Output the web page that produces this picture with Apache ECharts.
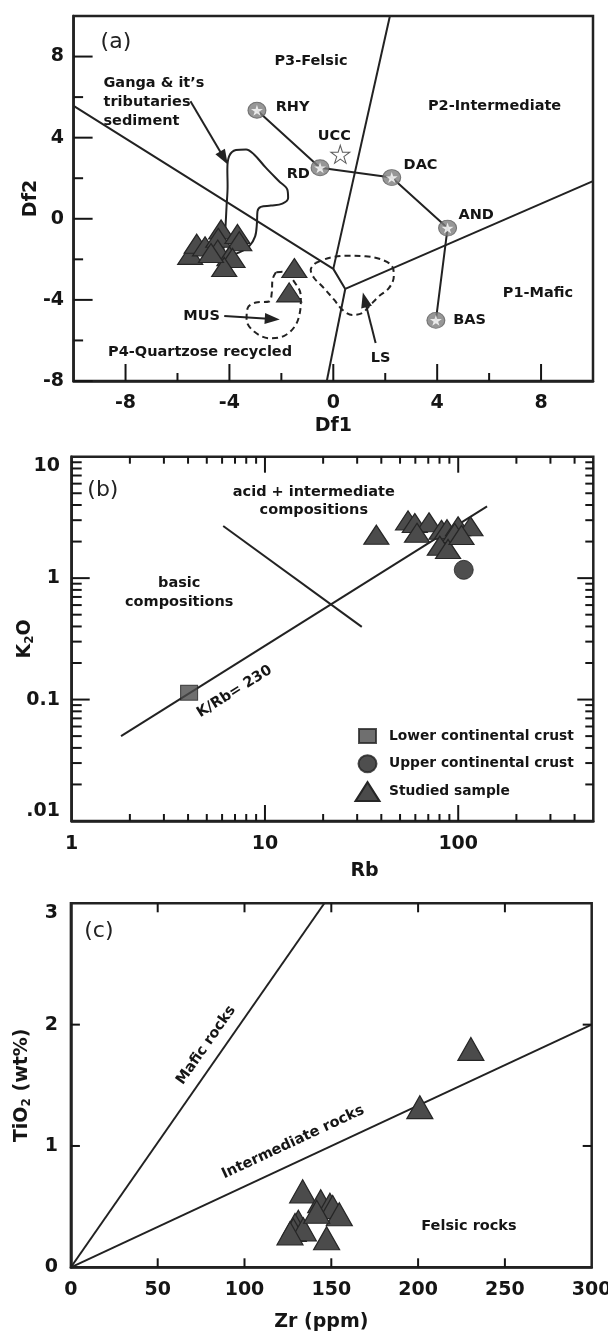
<!DOCTYPE html>
<html>
<head>
<meta charset="utf-8">
<script src="https://cdn.jsdelivr.net/npm/echarts@6/dist/echarts.min.js"></script>
<style>
  html, body { margin: 0; padding: 0; background: #fff; }
  #chart { width: 608px; height: 1334px; }
</style>
</head>
<body>
<div id="chart"></div>
<script>
// ---------- (a) Df1 - Df2 discriminant diagram ----------
const sampleDf1 = [-5.51, -5.26, -4.94, -4.32, -4.43, -3.69, -3.62, -4.45, -4.0, -3.88, -4.2, -4.71, -1.5, -1.7];
const sampleDf2 = [-1.78, -1.23, -1.36, -0.53, -0.94, -0.75, -1.11, -1.52, -1.85, -1.93, -2.38, -1.69, -2.43, -3.63];
const refNames = ['RHY', 'RD', 'DAC', 'AND', 'BAS'];
const refDf1 = [-2.94, -0.51, 2.25, 4.40, 3.95];
const refDf2 = [5.35, 2.52, 2.03, -0.46, -5.01];
const uccDf = [0.27, 3.18];
// field boundaries
const boundaryA = [[-10, 5.57], [0, -2.47], [0.46, -3.46]];
const boundaryB = [[2.18, 10], [0, -2.47]];
const boundaryC = [[0.46, -3.46], [10, 1.86]];
const boundaryD = [[0.46, -3.46], [-0.25, -8]];
// Ganga sediment envelope, MUS and LS dashed fields
const gangaX = [-4.26, -4.16, -4.11, -4.07, -4.08, -4.01, -3.75, -3.36, -3.05, -2.6, -2.09, -1.77, -1.74, -1.96, -2.4, -2.79, -2.92, -2.94, -3.01, -3.24, -3.62, -4.0, -4.26];
const gangaY = [-1.85, -0.53, 0.62, 1.61, 2.43, 3.09, 3.39, 3.42, 3.17, 2.52, 1.85, 1.44, 1.03, 0.75, 0.65, 0.59, 0.37, -0.2, -0.87, -1.36, -1.66, -1.82, -1.85];
const musX = [-2.21, -2.34, -2.37, -2.47, -2.98, -3.3, -3.34, -3.05, -2.47, -1.89, -1.47, -1.28, -1.25, -1.34, -1.96, -2.21];
const musY = [-2.64, -3.0, -3.66, -4.08, -4.13, -4.41, -4.98, -5.56, -5.89, -5.77, -5.28, -4.57, -3.91, -3.42, -2.61, -2.64];
const lsX = [-0.68, -0.17, 0.48, 1.24, 1.88, 2.27, 2.33, 2.14, 1.75, 1.37, 1.11, 0.73, 0.35, 0.03, -0.42, -0.74, -0.87, -0.68];
const lsY = [-2.18, -1.93, -1.82, -1.85, -2.02, -2.35, -2.84, -3.42, -3.83, -4.33, -4.65, -4.74, -4.49, -3.99, -3.34, -2.92, -2.51, -2.18];
const arrowsA = [
  [[-5.5, 5.8], [-4.21, 3.0]],
  [[-4.2, -4.79], [-2.35, -4.94]],
  [[1.63, -6.13], [1.21, -4.0]]
];
const aTickMajorX = [-8, -4, 0, 4, 8];
const aTickMinorX = [-6, -2, 2, 6];
const aTickMajorY = [-8, -4, 0, 4, 8];
const aTickMinorY = [-6, -2, 2, 6];

// ---------- (b) K2O vs Rb ----------
const sampleRb = [37.7, 55.0, 59.6, 70.6, 61.2, 81.9, 87.5, 99.8, 95.9, 115.7, 80.3, 88.6, 104];
const sampleK2O = [2.28, 2.99, 2.84, 2.88, 2.36, 2.5, 2.53, 2.67, 2.35, 2.67, 1.85, 1.74, 2.27];
const lccRbK = [4.05, 0.114];
const uccRbK = [106.8, 1.17];
const kRbLine = [[1.8, 0.05], [141, 3.9]];
const crossLine = [[6.08, 2.69], [31.7, 0.397]];
const bTickValsX = [1, 10, 100];
const bTickTextX = ['1', '10', '100'];
const bTickValsY = [0.01, 0.1, 1, 10];
const bTickTextY = ['.01', '0.1', '1', '10'];
const bMajorX = [10, 100];
const bMinorX = [2, 3, 4, 5, 6, 7, 8, 9, 20, 30, 40, 50, 60, 70, 80, 90, 200, 300, 400];
const bMajorY = [0.1, 1];
const bMinorY = [0.02, 0.03, 0.04, 0.05, 0.06, 0.07, 0.08, 0.09, 0.2, 0.3, 0.4, 0.5, 0.6, 0.7, 0.8, 0.9, 2, 3, 4, 5, 6, 7, 8, 9];

// ---------- (c) TiO2 vs Zr ----------
const sampleZr = [230.4, 201, 133.5, 143.9, 149.2, 150.8, 154.6, 131, 129.1, 128.1, 133.9, 141.6, 147.3, 126.2];
const sampleTiO2 = [1.80, 1.32, 0.626, 0.544, 0.516, 0.497, 0.437, 0.376, 0.349, 0.307, 0.313, 0.458, 0.239, 0.28];
const maficLine = [[0, 0], [146, 3]];
const intermLine = [[0, 0], [300, 2]];
const cTickX = [50, 100, 150, 200, 250];
const cTickY = [1, 2];

const FONT = 'DejaVu Sans';
const INK = '#151515';
const TRI = '#4b4b4b';
const STAR = 'path://M50,0 L61,35 L98,35 L68,57 L79,91 L50,70 L21,91 L32,57 L2,35 L39,35 Z';

const boxA = { x: [-10, 10], y: [-8, 10] };
const boxB = { x: [1, 500], y: [0.01, 10] };
const boxC = { x: [0, 300], y: [0, 3] };

const zip = (xs, ys) => xs.map((x, i) => [x, ys[i]]);

// inward tick marks drawn through the axis scales
function tickSeries(gi, side, values, len, box) {
  return {
    type: 'custom', xAxisIndex: gi, yAxisIndex: gi, silent: true, z: 6,
    data: values.map(v => [v, v]),
    renderItem: function (params, api) {
      const v = api.value(0);
      let p, dx = 0, dy = 0;
      if (side === 'bottom') { p = api.coord([v, box.y[0]]); dy = -len; }
      else if (side === 'top') { p = api.coord([v, box.y[1]]); dy = len; }
      else if (side === 'left') { p = api.coord([box.x[0], v]); dx = len; }
      else { p = api.coord([box.x[1], v]); dx = -len; }
      return {
        type: 'line',
        shape: { x1: p[0], y1: p[1], x2: p[0] + dx, y2: p[1] + dy },
        style: { stroke: INK, lineWidth: 2 }
      };
    }
  };
}

function lineSeries(gi, pts, extra) {
  return Object.assign({
    type: 'line', xAxisIndex: gi, yAxisIndex: gi, data: pts, showSymbol: false, symbol: 'none',
    silent: true, z: 2, lineStyle: { color: '#222', width: 2 }
  }, extra || {});
}

function arrowSeries(gi, arrows) {
  return {
    type: 'line', xAxisIndex: gi, yAxisIndex: gi, data: [], silent: true, z: 4,
    markLine: {
      silent: true, symbol: ['none', 'triangle'], symbolSize: [11, 15],
      label: { show: false }, lineStyle: { color: '#222', width: 2, type: 'solid' },
      data: arrows.map(a => [{ coord: a[0] }, { coord: a[1] }])
    }
  };
}

function triSeries(gi, name, pts) {
  return {
    type: 'scatter', name: name, xAxisIndex: gi, yAxisIndex: gi, data: pts, z: 5,
    symbol: 'triangle', symbolSize: gi === 2 ? [26, 23] : [25, 19],
    itemStyle: { color: TRI, borderColor: '#262626', borderWidth: 1.2, opacity: 1 }
  };
}

function noteSeries(gi, notes) {
  return {
    type: 'scatter', xAxisIndex: gi, yAxisIndex: gi, silent: true, z: 10,
    symbolSize: 1, itemStyle: { color: 'rgba(0,0,0,0)' },
    data: notes.map(n => ({
      name: n.t, value: [n.x, n.y],
      label: {
        rotate: n.r || 0, align: n.a || 'center',
        fontSize: n.s || 14.5, fontWeight: n.w || 'bold', lineHeight: n.lh || 18,
        color: n.c || INK
      }
    })),
    label: {
      show: true, position: 'inside', formatter: p => p.name, fontFamily: FONT, color: INK,
      opacity: 1, textBorderWidth: 0, textBorderColor: 'transparent'
    }
  };
}

function powLabel(vals, texts) {
  return function (v) {
    for (let i = 0; i < vals.length; i++) {
      if (Math.abs(Math.log10(v) - Math.log10(vals[i])) < 1e-6) return texts[i];
    }
    return '';
  };
}

const labelBase = { fontFamily: FONT, fontWeight: 'bold', fontSize: 19, color: INK };
const axisBase = {
  axisLine: { show: true, onZero: false, lineStyle: { color: '#222', width: 2.5 } },
  axisTick: { show: false }, splitLine: { show: false },
  minorTick: { show: false }, minorSplitLine: { show: false },
  nameLocation: 'middle', nameMoveOverlap: false
};
const nameStyle = { fontFamily: FONT, fontWeight: 'bold', fontSize: 19, color: INK };
const subRich = {
  m: { fontFamily: FONT, fontWeight: 'bold', fontSize: 19, color: INK, lineHeight: 22 },
  s: { fontFamily: FONT, fontWeight: 'bold', fontSize: 12, color: INK, lineHeight: 12, verticalAlign: 'bottom' }
};

const gridBase = { show: true, borderColor: '#222', borderWidth: 2.5, backgroundColor: 'transparent', containLabel: false, outerBoundsMode: 'none' };

const option = {
  animation: false,
  backgroundColor: '#fff',
  grid: [
    Object.assign({ left: 73.6, top: 16, width: 519.4, height: 365 }, gridBase),
    Object.assign({ left: 71.7, top: 456.7, width: 521.6, height: 364.3 }, gridBase),
    Object.assign({ left: 70.9, top: 903.3, width: 520.8, height: 364 }, gridBase)
  ],
  xAxis: [
    Object.assign({}, axisBase, {
      gridIndex: 0, type: 'value', min: boxA.x[0], max: boxA.x[1], interval: 2,
      axisLabel: Object.assign({}, labelBase, { margin: 12.5, formatter: v => aTickMajorX.includes(v) ? String(v) : '' }),
      name: 'Df1', nameGap: 36, nameTextStyle: nameStyle
    }),
    Object.assign({}, axisBase, {
      gridIndex: 1, type: 'log', logBase: 10, min: boxB.x[0], max: boxB.x[1],
      axisLabel: Object.assign({}, labelBase, { margin: 14, formatter: powLabel(bTickValsX, bTickTextX) }),
      name: 'Rb', nameGap: 41, nameTextStyle: Object.assign({}, nameStyle, { padding: [0, 0, 0, 64] })
    }),
    Object.assign({}, axisBase, {
      gridIndex: 2, type: 'value', min: boxC.x[0], max: boxC.x[1], interval: 50,
      axisLabel: Object.assign({}, labelBase, { margin: 13 }),
      name: 'Zr (ppm)', nameGap: 45, nameTextStyle: Object.assign({}, nameStyle, { padding: [0, 20, 0, 0] })
    })
  ],
  yAxis: [
    Object.assign({}, axisBase, {
      gridIndex: 0, type: 'value', min: boxA.y[0], max: boxA.y[1], interval: 2,
      axisLabel: Object.assign({}, labelBase, { margin: 9.6, formatter: v => aTickMajorY.includes(v) ? String(v) : '' }),
      name: 'Df2', nameGap: 33, nameTextStyle: nameStyle
    }),
    Object.assign({}, axisBase, {
      gridIndex: 1, type: 'log', logBase: 10, min: boxB.y[0], max: boxB.y[1],
      axisLabel: Object.assign({}, labelBase, {
        margin: 11.7, formatter: powLabel(bTickValsY, bTickTextY),
        verticalAlignMaxLabel: 'top', verticalAlignMinLabel: 'bottom'
      }),
      name: '{m|K}{s|2}{m|O}', nameGap: 36, nameTextStyle: Object.assign({}, nameStyle, { rich: subRich })
    }),
    Object.assign({}, axisBase, {
      gridIndex: 2, type: 'value', min: boxC.y[0], max: boxC.y[1], interval: 1,
      axisLabel: Object.assign({}, labelBase, { margin: 13, verticalAlignMaxLabel: 'top' }),
      name: '{m|TiO}{s|2}{m| (wt%)}', nameGap: 38, nameTextStyle: Object.assign({}, nameStyle, { rich: subRich })
    })
  ],
  legend: {
    left: 349.5, top: 720.5, orient: 'vertical', itemGap: 6.8, itemWidth: 24, itemHeight: 19,
    selectedMode: false,
    textStyle: { fontFamily: FONT, fontWeight: 'bold', fontSize: 13.8, color: INK, padding: [0, 0, 0, 4.5] },
    data: [
      { name: 'Lower continental crust', icon: 'path://M0,0L0,0M24,19L24,19M3.5,2.5L20.5,2.5L20.5,16.5L3.5,16.5Z' },
      { name: 'Upper continental crust', icon: 'path://M0,0L0,0M24,19L24,19M3,9.5A9,8.5 0 1 1 21,9.5A9,8.5 0 1 1 3,9.5Z' },
      { name: 'Studied sample', icon: 'triangle' }
    ]
  },
  series: [
    // ----- panel (a)
    lineSeries(0, boundaryA), lineSeries(0, boundaryB), lineSeries(0, boundaryC), lineSeries(0, boundaryD),
    lineSeries(0, zip(gangaX, gangaY), { smooth: 0.35 }),
    lineSeries(0, zip(musX, musY), { smooth: 0.35, lineStyle: { color: '#222', width: 2, type: [6, 4] } }),
    lineSeries(0, zip(lsX, lsY), { smooth: 0.35, lineStyle: { color: '#222', width: 2, type: [6, 4] } }),
    arrowSeries(0, arrowsA),
    lineSeries(0, zip(refDf1, refDf2), { z: 3 }),
    triSeries(0, 'Studied sample a', zip(sampleDf1, sampleDf2)),
    {
      type: 'scatter', xAxisIndex: 0, yAxisIndex: 0, silent: true, z: 6,
      data: zip(refDf1, refDf2), symbol: 'circle', symbolSize: [18, 16],
      itemStyle: { color: '#7d7d7d', borderColor: '#5c5c5c', borderWidth: 1 }
    },
    {
      type: 'scatter', xAxisIndex: 0, yAxisIndex: 0, silent: true, z: 7,
      data: zip(refDf1, refDf2), symbol: STAR, symbolSize: [12, 11],
      itemStyle: { color: '#fff' }
    },
    {
      type: 'scatter', xAxisIndex: 0, yAxisIndex: 0, silent: true, z: 7,
      data: [uccDf], symbol: STAR, symbolSize: [19, 18],
      itemStyle: { color: '#fff', borderColor: '#333', borderWidth: 1 }
    },
    noteSeries(0, [
      { t: '(a)', x: -8.37, y: 8.69, s: 22, w: 'normal', c: '#222' },
      { t: 'P3-Felsic', x: -0.86, y: 7.75 },
      { t: 'P2-Intermediate', x: 6.21, y: 5.53 },
      { t: 'Ganga & it\u2019s\ntributaries\nsediment', x: -8.85, y: 5.76, a: 'left', lh: 19 },
      { t: refNames[0], x: -1.57, y: 5.48 },
      { t: 'UCC', x: 0.04, y: 4.08 },
      { t: refNames[1], x: -1.35, y: 2.18 },
      { t: refNames[2], x: 3.36, y: 2.64 },
      { t: refNames[3], x: 5.5, y: 0.17 },
      { t: 'P1-Mafic', x: 7.88, y: -3.67 },
      { t: refNames[4], x: 5.25, y: -5.02 },
      { t: 'MUS', x: -5.07, y: -4.79 },
      { t: 'P4-Quartzose recycled', x: -5.13, y: -6.6 },
      { t: 'LS', x: 1.82, y: -6.88 }
    ]),
    tickSeries(0, 'bottom', aTickMajorX, 17, boxA),
    tickSeries(0, 'bottom', aTickMinorX, 8, boxA),
    tickSeries(0, 'left', aTickMajorY, 19, boxA),
    tickSeries(0, 'left', aTickMinorY, 9.5, boxA),

    // ----- panel (b)
    lineSeries(1, kRbLine),
    lineSeries(1, crossLine),
    triSeries(1, 'Studied sample', zip(sampleRb, sampleK2O)),
    {
      type: 'scatter', name: 'Lower continental crust', xAxisIndex: 1, yAxisIndex: 1, z: 5,
      data: [lccRbK], symbol: 'rect', symbolSize: [17, 15],
      itemStyle: { color: TRI, borderColor: '#262626', borderWidth: 1 }
    },
    {
      type: 'scatter', name: 'Upper continental crust', xAxisIndex: 1, yAxisIndex: 1, z: 5,
      data: [uccRbK], symbol: 'circle', symbolSize: 19,
      itemStyle: { color: '#222', borderColor: '#222', borderWidth: 1 }
    },
    noteSeries(1, [
      { t: '(b)', x: 1.45, y: 5.3, s: 22, w: 'normal', c: '#222' },
      { t: 'acid + intermediate\ncompositions', x: 17.9, y: 4.28, lh: 18.4 },
      { t: 'basic\ncompositions', x: 3.6, y: 0.76, lh: 19.6 },
      { t: 'K/Rb= 230', x: 6.95, y: 0.116, r: 32 }
    ]),
    tickSeries(1, 'bottom', bMajorX, 16, boxB),
    tickSeries(1, 'bottom', bMinorX, 7, boxB),
    tickSeries(1, 'top', bMajorX, 16, boxB),
    tickSeries(1, 'top', bMinorX, 7, boxB),
    tickSeries(1, 'left', bMajorY, 18, boxB),
    tickSeries(1, 'left', bMinorY, 10, boxB),
    tickSeries(1, 'right', bMajorY, 16, boxB),
    tickSeries(1, 'right', bMinorY, 8, boxB),

    // ----- panel (c)
    lineSeries(2, maficLine),
    lineSeries(2, intermLine),
    triSeries(2, 'Studied sample c', zip(sampleZr, sampleTiO2)),
    noteSeries(2, [
      { t: '(c)', x: 16.1, y: 2.77, s: 22, w: 'normal', c: '#222' },
      { t: 'Mafic rocks', x: 77.9, y: 1.83, r: 55 },
      { t: 'Intermediate rocks', x: 128, y: 1.03, r: 25 },
      { t: 'Felsic rocks', x: 229.3, y: 0.335 }
    ]),
    tickSeries(2, 'bottom', cTickX, 9, boxC),
    tickSeries(2, 'top', cTickX, 9, boxC),
    tickSeries(2, 'left', cTickY, 9, boxC),
    tickSeries(2, 'right', cTickY, 9, boxC)
  ]
};

const chart = echarts.init(document.getElementById('chart'));
chart.setOption(option);
</script>
</body>
</html>
